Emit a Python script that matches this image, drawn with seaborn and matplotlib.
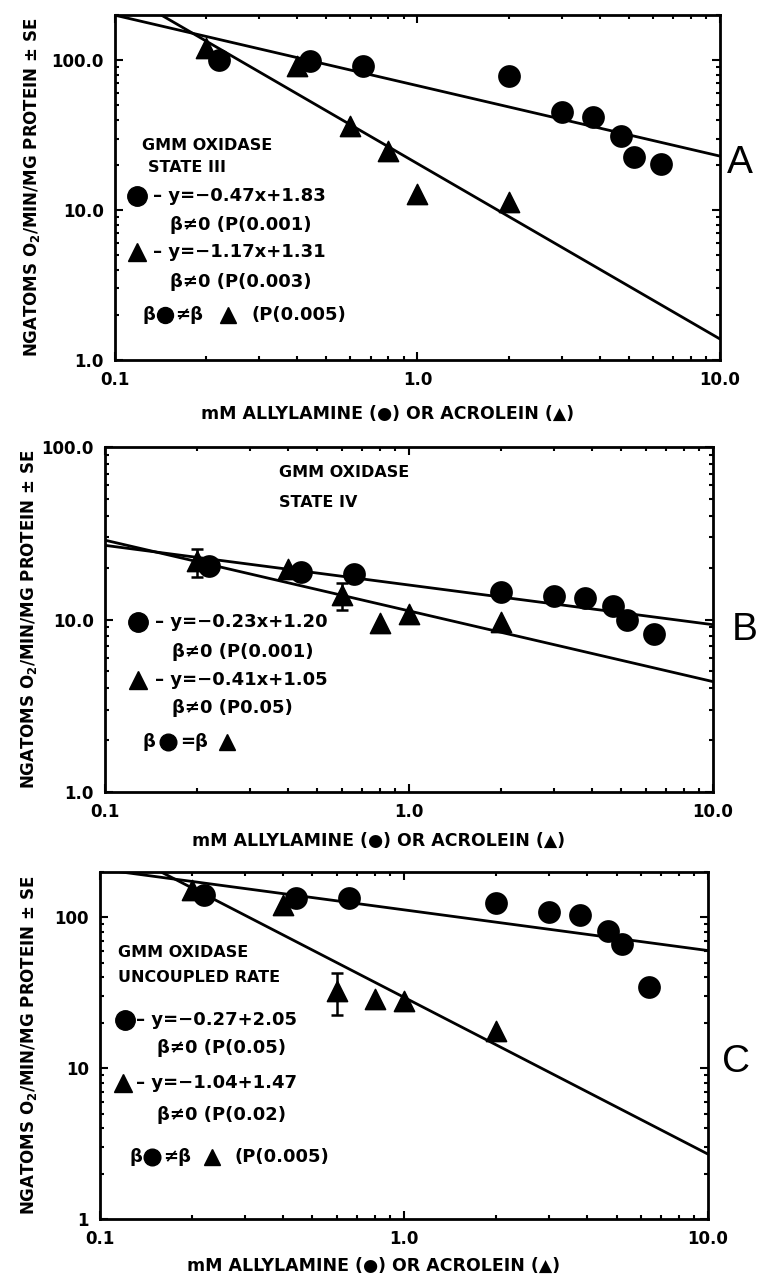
import numpy as np
import matplotlib
matplotlib.use("Agg")
import matplotlib.pyplot as plt
import seaborn as sns
from matplotlib.ticker import FixedLocator, FixedFormatter, LogLocator, NullFormatter

# ------------------------------------------
# Style
# ------------------------------------------
sns.set_style("ticks")
plt.rcParams["font.family"] = ["DejaVu Sans"]
plt.rcParams["font.weight"] = "bold"
plt.rcParams["mathtext.default"] = "bf"
for key in ["text.color", "axes.labelcolor", "xtick.color", "ytick.color"]:
    plt.rcParams[key] = "black"

# ------------------------------------------
# Data
# ------------------------------------------
allyl_mm = [0.22, 0.44, 0.66, 2.0, 3.0, 3.8, 4.7, 5.2, 6.4]
acrol_mm = [0.2, 0.4, 0.6, 0.8, 1.0, 2.0]

# panel A - state III
a_allyl = [100, 98, 92, 79, 45, 42, 31, 22.7, 20.4]
a_acrol = [120, 91, 36.6, 24.9, 12.8, 11.3]
a_acrol_se = [0, 0, 0, 0, 0, 0]
a_fit_slope = [-0.47, -1.17]
a_fit_icpt = [1.83, 1.31]

# panel B - state IV
b_allyl = [20.3, 18.8, 18.3, 14.5, 13.6, 13.4, 11.9, 10.0, 8.2]
b_acrol = [21.7, 19.5, 13.8, 9.6, 10.8, 9.7]
b_acrol_se = [4.0, 0, 2.5, 0, 0, 0]
b_fit_slope = [-0.23, -0.41]
b_fit_icpt = [1.20, 1.05]

# panel C - uncoupled rate
c_allyl = [140, 134, 134, 124, 108, 103, 80.7, 67, 34.7]
c_acrol = [151, 120, 32.6, 28.8, 28, 17.6]
c_acrol_se = [0, 0, 10, 0, 0, 0]
c_fit_slope = [-0.27, -1.04]
c_fit_icpt = [2.05, 1.47]

fit_x = [0.1, 10.0]

x_ticks = [0.1, 1.0, 10.0]
x_ticklabels = ["0.1", "1.0", "10.0"]
y_ticks = [1, 10, 100]
y_ticklabels_ab = ["1.0", "10.0", "100.0"]
y_ticklabels_c = ["1", "10", "100"]

ylabel = "NGATOMS O$_2$/MIN/MG PROTEIN \u00b1 SE"
xlabel = "mM ALLYLAMINE (\u25cf) OR ACROLEIN (\u25b2)"


def draw_panel(ax, allyl, acrol, acrol_se, slopes, icpts, ymax, yticklabels):
    ax.set_xscale("log")
    ax.set_yscale("log")

    for m, b in zip(slopes, icpts):
        fit_y = [10 ** (b + m * np.log10(x)) for x in fit_x]
        sns.lineplot(x=fit_x, y=fit_y, color="black", lw=2, ax=ax)

    err = [e if e > 0 else np.nan for e in acrol_se]
    ax.errorbar(acrol_mm, acrol, yerr=err, fmt="none", ecolor="black",
                elinewidth=1.8, capsize=4, capthick=1.8, zorder=2)

    sns.scatterplot(x=allyl_mm, y=allyl, marker="o", s=230, color="black",
                    edgecolor="black", ax=ax, zorder=3)
    sns.scatterplot(x=acrol_mm, y=acrol, marker="^", s=210, color="black",
                    edgecolor="black", ax=ax, zorder=3)

    ax.set_xlim(0.1, 10)
    ax.set_ylim(1, ymax)

    ax.xaxis.set_major_locator(FixedLocator(x_ticks))
    ax.xaxis.set_major_formatter(FixedFormatter(x_ticklabels))
    ax.xaxis.set_minor_locator(LogLocator(base=10, subs=np.arange(2, 10)))
    ax.xaxis.set_minor_formatter(NullFormatter())
    ax.yaxis.set_major_locator(FixedLocator(y_ticks))
    ax.yaxis.set_major_formatter(FixedFormatter(yticklabels))
    ax.yaxis.set_minor_locator(LogLocator(base=10, subs=np.arange(2, 10)))
    ax.yaxis.set_minor_formatter(NullFormatter())

    ax.tick_params(which="both", direction="in", top=True, right=True,
                   width=1.5, labelsize=12, pad=8)
    ax.tick_params(which="major", length=6)
    ax.tick_params(which="minor", length=3)
    for sp in ax.spines.values():
        sp.set_linewidth(2)
        sp.set_color("black")

    ax.set_xlabel(xlabel, fontsize=12.5, fontweight="bold")
    ax.set_ylabel(ylabel, fontsize=12, fontweight="bold")


def note(ax, x, y, s, size=13):
    ax.text(x, y, s, transform=ax.transAxes, fontsize=size,
            fontweight="bold", va="center", ha="left")


def mark(ax, x, y, marker, ms):
    ax.plot([x], [y], marker=marker, ms=ms, color="black",
            transform=ax.transAxes, clip_on=False)


fig = plt.figure(figsize=(7.68, 12.8), dpi=100)

# ------------------------------------------
# Panel A
# ------------------------------------------
axA = fig.add_axes([0.1497, 0.71875, 0.7878, 0.2695])
draw_panel(axA, a_allyl, a_acrol, a_acrol_se, a_fit_slope, a_fit_icpt,
           200, y_ticklabels_ab)
axA.yaxis.set_label_coords(-0.121, 0.5)
axA.xaxis.set_label_coords(0.45, -0.13)
note(axA, 0.045, 0.623, "GMM OXIDASE", 11.5)
note(axA, 0.055, 0.557, "STATE III", 11.5)
mark(axA, 0.036, 0.475, "o", 14)
note(axA, 0.063, 0.475, "\u2013 y=\u22120.47x+1.83")
note(axA, 0.091, 0.391, "\u03b2\u22600 (P(0.001)")
mark(axA, 0.036, 0.313, "^", 13)
note(axA, 0.063, 0.313, "\u2013 y=\u22121.17x+1.31")
note(axA, 0.091, 0.226, "\u03b2\u22600 (P(0.003)")
note(axA, 0.046, 0.130, "\u03b2")
mark(axA, 0.083, 0.130, "o", 11.5)
note(axA, 0.099, 0.130, "\u2260\u03b2")
mark(axA, 0.187, 0.130, "^", 11)
note(axA, 0.226, 0.130, "(P(0.005)")

# ------------------------------------------
# Panel B
# ------------------------------------------
axB = fig.add_axes([0.1367, 0.38125, 0.7917, 0.2695])
draw_panel(axB, b_allyl, b_acrol, b_acrol_se, b_fit_slope, b_fit_icpt,
           100, y_ticklabels_ab)
axB.yaxis.set_label_coords(-0.109, 0.5)
axB.xaxis.set_label_coords(0.45, -0.116)
note(axB, 0.286, 0.925, "GMM OXIDASE", 11.5)
note(axB, 0.286, 0.84, "STATE IV", 11.5)
mark(axB, 0.054, 0.493, "o", 14)
note(axB, 0.082, 0.493, "\u2013 y=\u22120.23x+1.20")
note(axB, 0.110, 0.406, "\u03b2\u22600 (P(0.001)")
mark(axB, 0.054, 0.325, "^", 13)
note(axB, 0.082, 0.325, "\u2013 y=\u22120.41x+1.05")
note(axB, 0.110, 0.243, "\u03b2\u22600 (P0.05)")
note(axB, 0.0625, 0.145, "\u03b2")
mark(axB, 0.104, 0.145, "o", 12)
note(axB, 0.124, 0.145, "=\u03b2")
mark(axB, 0.20, 0.145, "^", 11)

# ------------------------------------------
# Panel C
# ------------------------------------------
axC = fig.add_axes([0.1302, 0.04766, 0.7917, 0.2711])
draw_panel(axC, c_allyl, c_acrol, c_acrol_se, c_fit_slope, c_fit_icpt,
           200, y_ticklabels_c)
axC.yaxis.set_label_coords(-0.100, 0.5)
axC.xaxis.set_label_coords(0.45, -0.11)
note(axC, 0.030, 0.769, "GMM OXIDASE", 11.5)
note(axC, 0.030, 0.697, "UNCOUPLED RATE", 11.5)
mark(axC, 0.041, 0.573, "o", 14)
note(axC, 0.060, 0.573, "\u2013 y=\u22120.27+2.05")
note(axC, 0.094, 0.493, "\u03b2\u22600 (P(0.05)")
mark(axC, 0.038, 0.392, "^", 13)
note(axC, 0.060, 0.392, "\u2013 y=\u22121.04+1.47")
note(axC, 0.094, 0.300, "\u03b2\u22600 (P(0.02)")
note(axC, 0.049, 0.179, "\u03b2")
mark(axC, 0.086, 0.179, "o", 12)
note(axC, 0.104, 0.179, "\u2260\u03b2")
mark(axC, 0.184, 0.179, "^", 11)
note(axC, 0.222, 0.179, "(P(0.005)")

# panel letters
for letter, fx, fy in [("A", 740, 163), ("B", 745, 630), ("C", 736, 1062)]:
    fig.text(fx / 768, 1 - fy / 1280, letter, fontsize=28, fontweight="normal",
             family="Liberation Sans", ha="center", va="center")

fig.savefig("out.png", dpi=100, facecolor="white")
